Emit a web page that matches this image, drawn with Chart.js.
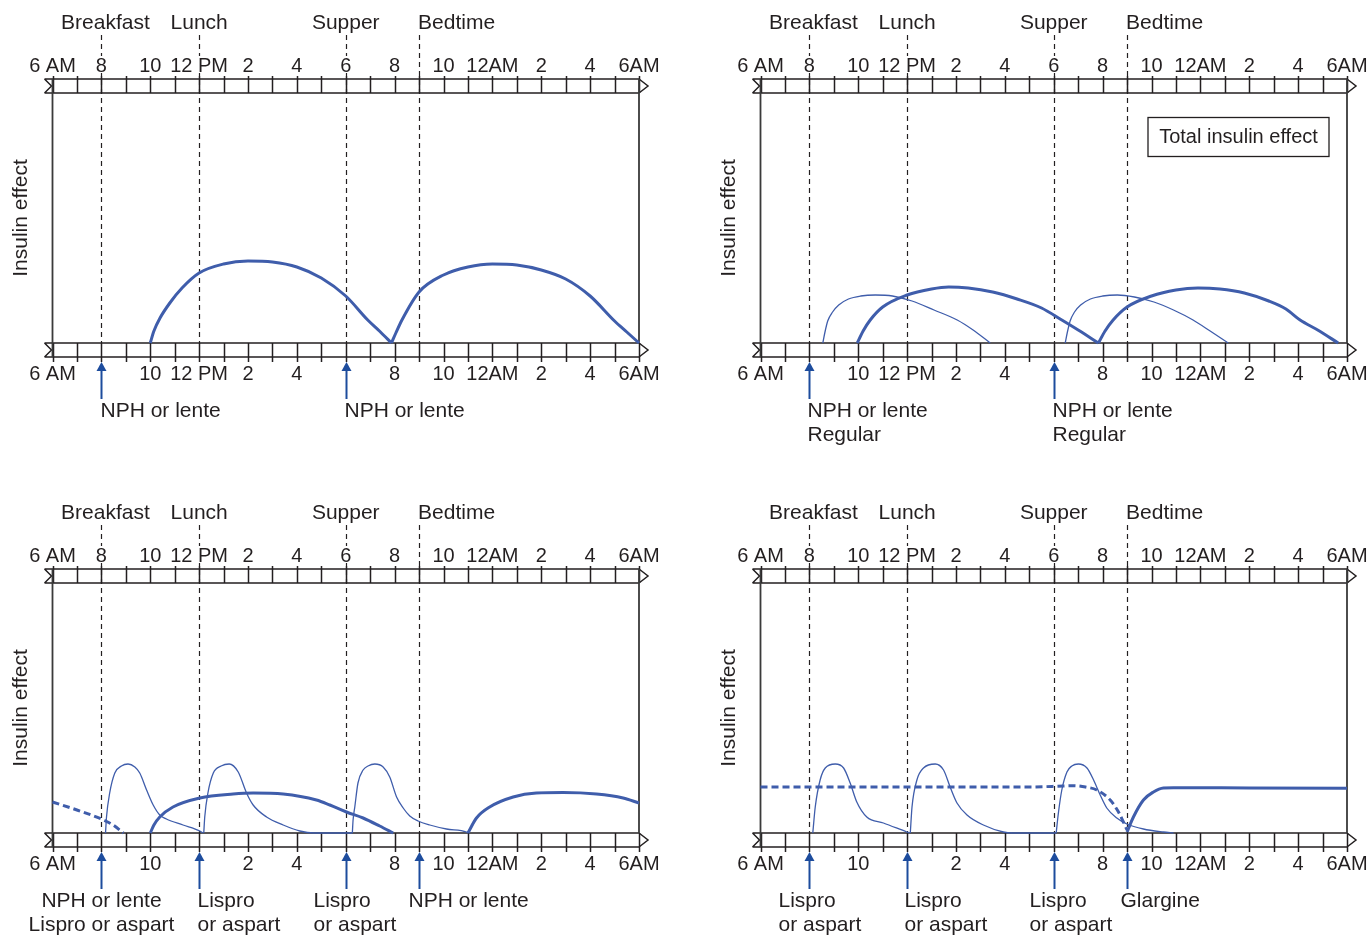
<!DOCTYPE html>
<html><head><meta charset="utf-8">
<script src="https://cdn.jsdelivr.net/npm/chart.js@4.4.1/dist/chart.umd.min.js"></script>
<style>
html,body{margin:0;padding:0;background:#fff;}
body{width:1371px;height:935px;position:relative;overflow:hidden;}
canvas{position:absolute;}
</style></head><body>
<canvas id="c1" width="663" height="445" style="left:0;top:0"></canvas>
<canvas id="c2" width="663" height="445" style="left:708px;top:0"></canvas>
<canvas id="c3" width="663" height="445" style="left:0;top:490px"></canvas>
<canvas id="c4" width="663" height="445" style="left:708px;top:490px"></canvas>
<script>
// ---------- axis text ----------
const TICK_HOURS = [0,2,4,6,8,10,12,14,16,18,20,22,24];
const TICK_TEXT  = ['6 AM','8','10','12 PM','2','4','6','8','10','12AM','2','4','6AM'];
const MEAL_HOURS = [2,6,12,15];
const MEAL_NAMES = ['Breakfast','Lunch','Supper','Bedtime'];
const Y_TITLE = 'Insulin effect';

// ---------- panel 1 : NPH or lente twice ----------
const p1NphAm = [[4.0,0],[4.15,12],[4.4,25],[4.8,40],[5.3,55],[6.0,70],[7.0,79],[8.0,82],[9.0,81],[10.0,76],[11.0,65],[12.0,47],[12.9,23],[13.4,11.5],[13.87,0]];
const p1NphPm = [[13.87,0],[14.05,10],[14.3,23],[15.0,51],[16.0,68],[17.0,76],[18.0,79],[19.0,78],[20.0,73],[21.0,64],[22.0,47],[23.0,22],[23.5,11],[24.0,0]];
const p1DoseHours = [2,12];
const p1DoseText = [['NPH or lente'],['NPH or lente']];
const p1HiddenBottom = [2,12];

// ---------- panel 2 : NPH + Regular twice ----------
const p2RegAm = [[2.55,0],[2.63,10],[2.75,22],[2.95,31],[3.2,38],[3.6,44],[4.1,47],[4.7,48],[5.4,47],[6.2,42],[7.1,33],[8.05,23],[8.7,13],[9.4,0]];
const p2NphAm = [[3.96,0],[4.2,12],[4.49,23],[5.0,36],[6.0,48],[7.0,54],[7.7,56],[8.5,55],[9.5,51],[10.5,44],[11.5,35],[12.33,23],[13.0,13],[13.83,0]];
const p2RegPm = [[12.47,0],[12.55,10],[12.67,22],[12.85,31],[13.1,38],[13.5,44],[14.0,47],[14.6,48],[15.3,46],[16.1,41],[16.9,33],[17.7,23],[18.4,12],[19.14,0]];
const p2NphPm = [[13.83,0],[14.1,12],[14.43,23],[15.0,36],[16.0,47],[17.0,53],[17.9,55],[18.8,54],[19.8,50],[20.8,42],[21.5,34],[22.08,23],[22.8,13],[23.64,0]];
const p2DoseHours = [2,12];
const p2DoseText = [['NPH or lente','Regular'],['NPH or lente','Regular']];
const p2HiddenBottom = [2,12];
const p2BoxText = 'Total insulin effect';

// ---------- panel 3 : NPH + Lispro ----------
const p3NphTail = [[0,31],[1,23],[2,14],[2.48,8],[2.9,0]];
const p3LisAm = [[2.17,0],[2.21,16],[2.34,40],[2.55,60],[2.82,67],[3.09,69],[3.37,66],[3.57,60],[3.85,43],[4.12,28],[4.39,18],[4.66,14],[5.34,8],[6.03,2],[6.15,0]];
const p3LisNoon = [[6.19,0],[6.23,16],[6.36,40],[6.58,60],[6.9,67],[7.23,69],[7.6,61],[7.94,40],[8.21,28],[8.76,16],[9.44,8],[10.12,2],[10.7,0],[12.27,0]];
const p3LisPm = [[12.27,0],[12.3,13],[12.37,26],[12.5,50],[12.71,63],[12.91,67],[13.19,69],[13.53,66],[13.8,56],[14.08,36],[14.35,25],[14.62,17],[14.96,12],[15.44,8],[16.12,4],[16.94,1],[17.0,0]];
const p3NphAm = [[4.0,0],[4.15,8],[4.39,16],[4.93,26],[6.03,35],[7.39,39],[8.21,40],[9.44,39],[10.8,33],[11.35,28],[12.03,21],[12.71,15],[13.39,7],[13.94,0]];
const p3NphBed = [[17.0,0],[17.35,15],[17.89,26],[18.85,36],[19.8,40],[20.89,40.5],[22.26,39],[23.35,35],[24.0,30]];
const p3DoseHours = [2,6,12,15];
const p3DoseText = [['NPH or lente','Lispro or aspart'],['Lispro','or aspart'],['Lispro','or aspart'],['NPH or lente']];
const p3HiddenBottom = [2,6,12];

// ---------- panel 4 : Lispro + Glargine ----------
const p4Basal = [[0,46],[4,46],[8,46],[11,46],[12.4,47],[12.8,47.3],[13.3,46],[13.76,43],[14.31,33],[14.65,21],[14.85,11],[15.0,3]];
const p4Glargine = [[15.0,1],[15.26,16],[15.67,33],[16.08,41],[16.49,45],[16.9,45.3],[20.0,45],[24.0,44.7]];
const p4LisAm = [[2.14,0],[2.24,26],[2.44,53],[2.65,65],[3.06,69],[3.4,65],[3.67,50],[3.94,31],[4.35,16],[5.03,10],[5.99,1],[6.1,0]];
const p4LisNoon = [[6.13,0],[6.2,26],[6.4,53],[6.67,65],[7.15,69],[7.49,63],[7.76,46],[8.04,30],[8.45,18],[9.12,8],[9.94,1],[10.3,0],[12.1,0]];
const p4LisPm = [[12.1,0],[12.19,20],[12.33,43],[12.54,61],[12.74,67],[13.01,69],[13.36,65],[13.63,53],[13.9,38],[14.17,25],[14.58,15],[14.99,9],[15.67,4],[16.49,1],[16.9,0]];
const p4DoseHours = [2,6,12,15];
const p4DoseText = [['Lispro','or aspart'],['Lispro','or aspart'],['Lispro','or aspart'],['Glargine']];
const p4HiddenBottom = [2,6,12];

// ---------- styles / layout ----------
const INK = '#231f20';
const BLUE = '#3f5dab';
const ARROW = '#1d4c9d';
const FONT = '"Liberation Sans", Arial, Helvetica, sans-serif';
const MEAL_LAYOUT = [{align:'center',dx:4},{align:'center',dx:0},{align:'center',dx:0},{align:'left',dx:-1}];

function styleFor(kind){
  if(kind==='thick') return {borderWidth:3, borderDash:[]};
  if(kind==='dashed') return {borderWidth:3, borderDash:[7,4]};
  return {borderWidth:1.3, borderDash:[]};
}

function panelPlugin(cfg){
  return {
    id:'panelDecor',
    beforeDatasetsDraw(chart){
      const ctx = chart.ctx, ca = chart.chartArea, xs = chart.scales.x;
      const L = ca.left, R = ca.right, T = ca.top, B = ca.bottom;
      ctx.save();
      // meal dashed lines
      ctx.strokeStyle = INK; ctx.lineWidth = 1.2; ctx.setLineDash([5,4]);
      MEAL_HOURS.forEach(h=>{
        const px = Math.round(xs.getPixelForValue(h))+0.5;
        ctx.beginPath(); ctx.moveTo(px, T-58); ctx.lineTo(px, B); ctx.stroke();
      });
      ctx.setLineDash([]);
      // meal labels
      ctx.fillStyle = INK; ctx.font = '21px '+FONT; ctx.textBaseline = 'alphabetic';
      MEAL_HOURS.forEach((h,i)=>{
        const lay = MEAL_LAYOUT[i];
        ctx.textAlign = lay.align;
        ctx.fillText(MEAL_NAMES[i], xs.getPixelForValue(h)+lay.dx, T-64);
      });
      // top tick labels (white backing hides dashed lines)
      ctx.font = '20px '+FONT; ctx.textAlign='center'; ctx.textBaseline='alphabetic';
      TICK_HOURS.forEach((h,i)=>{
        const px = xs.getPixelForValue(h);
        const w = ctx.measureText(TICK_TEXT[i]).width;
        ctx.fillStyle='#fff'; ctx.fillRect(px-w/2-1, T-37, w+2, 17);
        ctx.fillStyle=INK; ctx.fillText(TICK_TEXT[i], px, T-21);
      });
      // bottom tick labels
      TICK_HOURS.forEach((h,i)=>{
        if(cfg.hidden.indexOf(h)>=0) return;
        ctx.fillText(TICK_TEXT[i], xs.getPixelForValue(h), B+37);
      });
      // bands
      ctx.strokeStyle = INK; ctx.lineWidth = 1.5;
      const bands = [[T-14, T, T-17, T], [B, B+14, B, B+19]];
      bands.forEach(([y0,y1,t0,t1])=>{
        const ym = (y0+y1)/2;
        ctx.beginPath();
        ctx.moveTo(L-8, y0); ctx.lineTo(R, y0);
        ctx.moveTo(L-8, y1); ctx.lineTo(R, y1);
        ctx.moveTo(L-8, y0); ctx.lineTo(L-1, ym); ctx.lineTo(L-8, y1);
        ctx.moveTo(R, y0); ctx.lineTo(R+9, ym); ctx.lineTo(R, y1);
        ctx.stroke();
        ctx.beginPath();
        for(let h=0; h<=24; h++){
          const px = Math.round(xs.getPixelForValue(h))+0.5;
          ctx.moveTo(px, t0); ctx.lineTo(px, t1);
        }
        ctx.stroke();
      });
      // frame verticals
      ctx.strokeStyle = '#3a3a3a'; ctx.lineWidth = 1.8;
      ctx.beginPath();
      ctx.moveTo(L, T-14); ctx.lineTo(L, B+14);
      ctx.moveTo(R, T-14); ctx.lineTo(R, B);
      ctx.stroke();
      // y title
      ctx.fillStyle = INK; ctx.font='21px '+FONT; ctx.textAlign='center'; ctx.textBaseline='middle';
      ctx.translate(L-31, (T+B)/2); ctx.rotate(-Math.PI/2);
      ctx.fillText(Y_TITLE, 0, 0);
      ctx.restore();
    },
    afterDatasetsDraw(chart){
      const ctx = chart.ctx, ca = chart.chartArea, xs = chart.scales.x;
      const B = ca.bottom;
      ctx.save();
      cfg.doseHours.forEach((h,i)=>{
        const px = Math.round(xs.getPixelForValue(h))+0.5;
        ctx.strokeStyle = ARROW; ctx.fillStyle = ARROW; ctx.lineWidth = 2;
        ctx.beginPath(); ctx.moveTo(px, B+26); ctx.lineTo(px, B+56); ctx.stroke();
        ctx.beginPath(); ctx.moveTo(px, B+19); ctx.lineTo(px+5, B+28); ctx.lineTo(px-5, B+28); ctx.closePath(); ctx.fill();
        const lay = cfg.doseLayout[i];
        ctx.fillStyle = INK; ctx.font = '21px '+FONT; ctx.textAlign = lay.align; ctx.textBaseline='alphabetic';
        cfg.doseText[i].forEach((line,j)=>{
          ctx.fillText(line, px+lay.dx, B+74+j*24);
        });
      });
      if(cfg.box){
        const x0 = ca.left+387, y0 = ca.top+24, w = 181, hgt = 39;
        ctx.strokeStyle = INK; ctx.lineWidth = 1.3;
        ctx.strokeRect(x0+0.5, y0+0.5, w, hgt);
        ctx.fillStyle = INK; ctx.font='20px '+FONT; ctx.textAlign='center'; ctx.textBaseline='middle';
        ctx.fillText(cfg.box, x0+w/2+0.5, y0+hgt/2+1);
      }
      ctx.restore();
    }
  };
}

function makePanel(id, series, cfg){
  const datasets = series.map(s=>Object.assign({
    data: s.data.map(p=>({x:p[0], y:p[1]})),
    borderColor: BLUE, pointRadius: 0, fill:false,
    cubicInterpolationMode:'monotone', clip:false
  }, styleFor(s.kind)));
  return new Chart(document.getElementById(id).getContext('2d'), {
    type:'line',
    data:{datasets},
    options:{
      responsive:false, animation:false, events:[],
      plugins:{legend:{display:false}, tooltip:{enabled:false}},
      layout:{padding:{left:52.5, right:24, top:93, bottom:102}},
      scales:{
        x:{type:'linear', min:0, max:24, display:false},
        y:{type:'linear', min:0, max:250, display:false}
      }
    },
    plugins:[panelPlugin(cfg)]
  });
}

makePanel('c1', [
  {data:p1NphAm, kind:'thick'}, {data:p1NphPm, kind:'thick'}
], {hidden:p1HiddenBottom, doseHours:p1DoseHours, doseText:p1DoseText,
    doseLayout:[{align:'left',dx:-1},{align:'left',dx:-2}]});

makePanel('c2', [
  {data:p2RegAm, kind:'thin'}, {data:p2RegPm, kind:'thin'},
  {data:p2NphAm, kind:'thick'}, {data:p2NphPm, kind:'thick'}
], {hidden:p2HiddenBottom, doseHours:p2DoseHours, doseText:p2DoseText,
    doseLayout:[{align:'left',dx:-2},{align:'left',dx:-2}], box:p2BoxText});

makePanel('c3', [
  {data:p3NphTail, kind:'dashed'},
  {data:p3LisAm, kind:'thin'}, {data:p3LisNoon, kind:'thin'}, {data:p3LisPm, kind:'thin'},
  {data:p3NphAm, kind:'thick'}, {data:p3NphBed, kind:'thick'}
], {hidden:p3HiddenBottom, doseHours:p3DoseHours, doseText:p3DoseText,
    doseLayout:[{align:'center',dx:0},{align:'left',dx:-2},{align:'left',dx:-33},{align:'left',dx:-11}]});

makePanel('c4', [
  {data:p4Basal, kind:'dashed'},
  {data:p4LisAm, kind:'thin'}, {data:p4LisNoon, kind:'thin'}, {data:p4LisPm, kind:'thin'},
  {data:p4Glargine, kind:'thick'}
], {hidden:p4HiddenBottom, doseHours:p4DoseHours, doseText:p4DoseText,
    doseLayout:[{align:'left',dx:-31},{align:'left',dx:-3},{align:'left',dx:-25},{align:'left',dx:-7}]});
</script>
</body></html>
